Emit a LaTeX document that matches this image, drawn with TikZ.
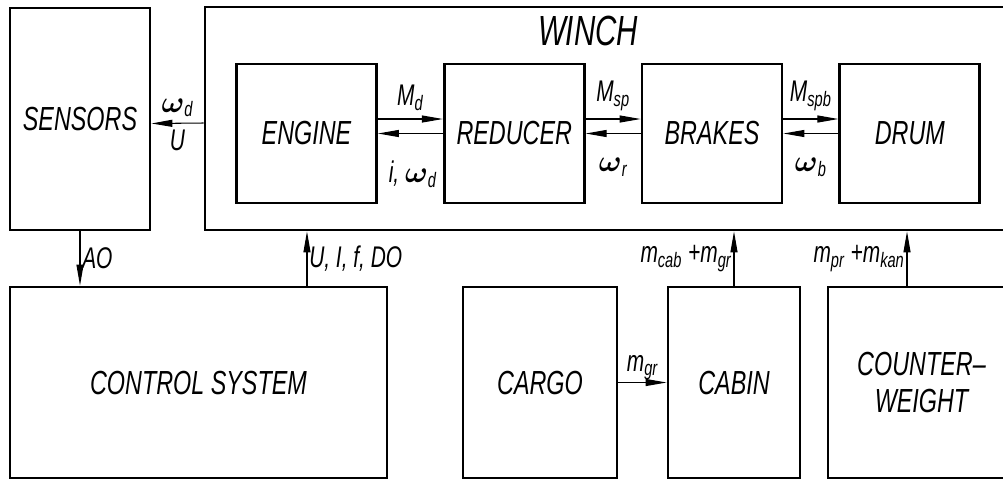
\documentclass[tikz,border=0pt]{standalone}
\usepackage{fontspec}
\usepackage{amsmath}
\setmainfont{Liberation Sans}[FakeStretch=0.7]
\usetikzlibrary{positioning,arrows.meta}

\begin{document}
\begin{tikzpicture}[
    x=0.02cm, y=-0.02cm,
    box/.style={draw, line width=1.6pt, align=center, font=\fontsize{19}{19}\selectfont\itshape},
    inbox/.style={box, minimum width=2.8cm, minimum height=2.78cm},
    lowbox/.style={box, minimum height=3.82cm},
    arr/.style={-{Triangle[length=0.42cm,width=0.14cm]}, line width=0.6pt},
    lbl/.style={font=\fontsize{17}{19}\selectfont\itshape, inner sep=1pt}
]
\useasboundingbox (0,0) rectangle (1003,481);

% upper row
\node[box, minimum width=2.8cm, minimum height=4.44cm] (sensors) at (80,119) {SENSORS};
\node[box, minimum width=16.2cm, minimum height=4.46cm] (winch) at (610,118.5) {};
\node[font=\fontsize{24}{26}\selectfont\itshape] (winchname) at (588,31) {WINCH};

\node[inbox] (engine) at (306.5,133.5) {ENGINE};
\node[inbox, right=1.3cm of engine] (reducer) {REDUCER};
\node[inbox, right=1.1cm of reducer] (brakes) {BRAKES};
\node[inbox, right=1.1cm of brakes] (drum) {DRUM};

% lower row
\node[lowbox, minimum width=7.54cm] (control) at (198.5,382.5) {CONTROL SYSTEM};
\node[lowbox, minimum width=3.08cm] (cargo) at (540,382.5) {CARGO};
\node[lowbox, minimum width=2.64cm] (cabin) at (734,382.5) {CABIN};
\node[lowbox, minimum width=3.74cm] (cweight) at (921.5,382.5) {COUNTER--\\[2pt]WEIGHT};

% links inside the winch
\draw[arr] ([yshift=-0.09cm]winch.west) -- node[lbl, above=0.08cm] (wsens) {$\boldsymbol{\omega}$\textsubscript{d}}
    node[lbl, below=0.08cm] (usens) {U} ([yshift=-0.09cm]sensors.east);
\draw[arr] ([yshift=0.29cm]engine.east) -- node[lbl, above=0.12cm] (md) {M\textsubscript{d}} ([yshift=0.29cm]reducer.west);
\draw[arr] (reducer.west) -- node[lbl, below=0.5cm, xshift=0.05cm] (wd) {i, $\boldsymbol{\omega}$\textsubscript{d}} (engine.east);
\draw[arr] ([yshift=0.29cm]reducer.east) -- node[lbl, above=0.12cm] (msp) {M\textsubscript{sp}} ([yshift=0.29cm]brakes.west);
\draw[arr] (brakes.west) -- node[lbl, below=0.45cm] (wr) {$\boldsymbol{\omega}$\textsubscript{r}} (reducer.east);
\draw[arr] ([yshift=0.29cm]brakes.east) -- node[lbl, above=0.12cm] (mspb) {M\textsubscript{spb}} ([yshift=0.29cm]drum.west);
\draw[arr] (drum.west) -- node[lbl, below=0.45cm] (wb) {$\boldsymbol{\omega}$\textsubscript{b}} (brakes.east);

% links between the rows
\coordinate (ctrlout) at ([xshift=2.17cm]control.north);
\coordinate (cwout) at ([xshift=-0.29cm]cweight.north);
\draw[arr] (sensors.south) -- node[lbl, right] (ao) {AO} (sensors.south |- control.north);
\draw[arr] (ctrlout) -- node[lbl, right] (uifdo) {U, I, f, DO} (ctrlout |- winch.south);
\draw[arr] (cabin.north) -- node[lbl, left] (mcab) {m\textsubscript{cab} +m\textsubscript{gr}} (cabin.north |- winch.south);
\draw[arr] (cwout) -- node[lbl, left] (mpr) {m\textsubscript{pr} +m\textsubscript{kan}} (cwout |- winch.south);
\draw[arr] (cargo) -- node[lbl, above] (mgr) {m\textsubscript{gr}} (cabin);

\end{tikzpicture}
\end{document}
